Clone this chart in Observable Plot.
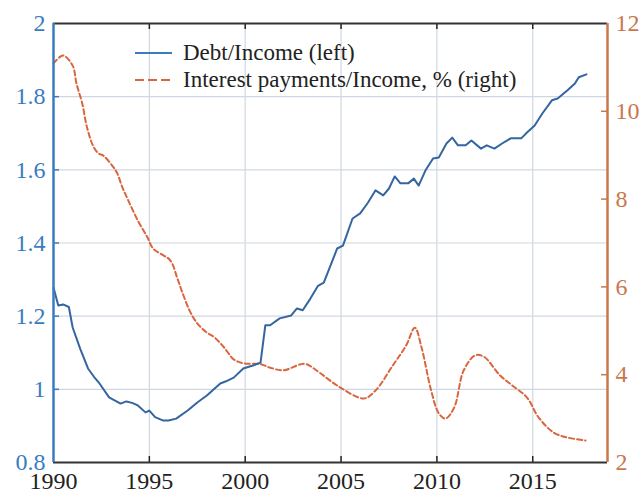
<!DOCTYPE html>
<html><head><meta charset="utf-8">
<script src="https://cdn.jsdelivr.net/npm/d3@7"></script>
<script src="https://cdn.jsdelivr.net/npm/@observablehq/plot@0.6"></script>
<style>
body{margin:0;background:#fff;}
#wrap{position:relative;width:641px;height:493px;font-family:'Liberation Serif','Times New Roman',serif;}
#legend{position:absolute;left:135px;top:39px;font-size:23px;color:#222;}
.row{display:flex;align-items:center;height:27px;white-space:nowrap;}
.row svg{margin-right:11px;}
</style></head><body>
<div id="wrap"><div id="chart"></div>
<div id="legend">
<div class="row"><svg width="37" height="6"><line x1="0" y1="3" x2="37" y2="3" stroke="#3a7cbf" stroke-width="2"/></svg><span>Debt/Income (left)</span></div>
<div class="row"><svg width="37" height="6"><line x1="0" y1="3" x2="37" y2="3" stroke="#d9663f" stroke-width="2" stroke-dasharray="9,4"/></svg><span>Interest payments/Income, % (right)</span></div>
</div></div>
<script>
const debtYears = [1990.0,1990.25,1990.5,1990.8,1991.0,1991.4,1991.8,1992.1,1992.4,1992.9,1993.5,1993.8,1994.1,1994.4,1994.8,1995.0,1995.3,1995.7,1996.0,1996.4,1997.0,1997.5,1998.0,1998.7,1999.0,1999.4,1999.9,2000.4,2000.8,2001.05,2001.3,2001.8,2002.4,2002.7,2003.0,2003.4,2003.8,2004.1,2004.8,2005.1,2005.6,2006.0,2006.4,2006.8,2007.2,2007.5,2007.8,2008.1,2008.5,2008.8,2009.05,2009.4,2009.8,2010.1,2010.5,2010.8,2011.1,2011.5,2011.8,2012.3,2012.6,2013.0,2013.4,2013.85,2014.4,2014.7,2015.1,2015.5,2016.0,2016.3,2016.8,2017.2,2017.4,2017.8];
const debtIncome = [1.278,1.229,1.232,1.225,1.169,1.11,1.057,1.035,1.016,0.978,0.961,0.967,0.963,0.956,0.937,0.942,0.924,0.915,0.915,0.92,0.942,0.964,0.983,1.016,1.022,1.032,1.057,1.065,1.073,1.175,1.175,1.194,1.202,1.221,1.216,1.248,1.283,1.292,1.385,1.393,1.467,1.481,1.51,1.544,1.530,1.549,1.582,1.563,1.563,1.576,1.557,1.598,1.631,1.634,1.672,1.688,1.667,1.667,1.680,1.658,1.667,1.658,1.672,1.686,1.686,1.702,1.721,1.754,1.790,1.795,1.817,1.836,1.853,1.861];
const intYears = [1990.0,1990.5,1991.0,1991.2,1991.5,1991.75,1992.1,1992.35,1992.6,1993.05,1993.3,1993.6,1993.9,1994.4,1994.9,1995.2,1995.65,1996.1,1996.45,1996.7,1997.1,1997.5,1998.0,1998.4,1998.9,1999.4,1999.9,2000.8,2001.3,2002.0,2002.9,2003.2,2003.9,2004.95,2006.2,2006.8,2007.7,2008.4,2008.85,2009.2,2009.7,2010.1,2010.45,2010.9,2011.4,2012.0,2012.45,2013.3,2013.95,2014.7,2015.3,2016.1,2016.8,2017.75];
const interestIncome = [11.09,11.27,11.04,10.63,10.18,9.63,9.18,9.04,8.99,8.77,8.61,8.26,7.97,7.51,7.13,6.87,6.74,6.60,6.21,5.90,5.46,5.17,4.96,4.85,4.62,4.35,4.26,4.24,4.16,4.10,4.24,4.24,4.04,3.71,3.46,3.64,4.21,4.67,5.07,4.62,3.64,3.12,3.00,3.25,4.10,4.44,4.41,3.98,3.75,3.48,3.03,2.68,2.57,2.50];
const xTicks = [1990,1995,2000,2005,2010,2015];
const leftTicks = [0.8,1,1.2,1.4,1.6,1.8,2];
const leftLabels = ["0.8","1","1.2","1.4","1.6","1.8","2"];
const rightTicks = [2,4,6,8,10,12];
const xMax = 2018.9;

const leftMin = 0.8, leftMax = 2, rightMin = 2, rightMax = 12;
const toLeft = v => leftMin + (v - rightMin) * (leftMax - leftMin) / (rightMax - rightMin);
const fromLeft = v => rightMin + (v - leftMin) * (rightMax - rightMin) / (leftMax - leftMin);

const debt = debtYears.map((x, i) => ({x, v: debtIncome[i]}));
const intr = intYears.map((x, i) => ({x, v: interestIncome[i]}));

const W = 641, H = 493, mL = 53, mR = 34, mT = 23, mB = 31;
const tickPx = 6;
const tickX = tickPx * (xMax - 1990) / (W - mL - mR);
const tickY = tickPx * (leftMax - leftMin) / (H - mT - mB);

const blue = "#3a7cbf", orange = "#d9663f", rightAxis = "#c8784c";
const font = "'Liberation Serif','Times New Roman',serif";
const chart = Plot.plot({
  width: W, height: H,
  marginLeft: mL, marginRight: mR, marginTop: mT, marginBottom: mB,
  style: {fontFamily: font, fontSize: "24px", background: "white"},
  x: {domain: [1990, xMax]},
  y: {domain: [leftMin, leftMax]},
  marks: [
    Plot.gridX(xTicks.slice(1), {stroke: "#cfd8e2", strokeOpacity: 1, strokeWidth: 1.2}),
    Plot.gridY(leftTicks.slice(1, -1), {stroke: "#cfd8e2", strokeOpacity: 1, strokeWidth: 1.2}),
    Plot.line(intr, {x: "x", y: d => toLeft(d.v), stroke: orange, strokeWidth: 2, strokeDasharray: "5,3", curve: "catmull-rom"}),
    Plot.line(debt, {x: "x", y: "v", stroke: "#3565a0", strokeWidth: 2}),
    // inward tick marks
    Plot.ruleX(xTicks.slice(1), {x: d => d, y1: leftMin, y2: leftMin + tickY, stroke: "#222", strokeWidth: 1.5}),
    Plot.ruleX(xTicks.slice(1), {x: d => d, y1: leftMax, y2: leftMax - tickY, stroke: "#222", strokeWidth: 1.5}),
    Plot.ruleY(leftTicks.slice(1, -1), {y: d => d, x1: 1990, x2: 1990 + tickX, stroke: blue, strokeWidth: 1.5}),
    Plot.ruleY(rightTicks.slice(1, -1).map(toLeft), {y: d => d, x1: xMax, x2: xMax - tickX, stroke: rightAxis, strokeWidth: 1.5}),
    // tick labels
    Plot.axisX({anchor: "bottom", ticks: xTicks, tickSize: 0, tickPadding: 9, tickFormat: d => String(d), label: null, color: "#222"}),
    Plot.axisY({anchor: "left", ticks: leftTicks, tickSize: 0, tickPadding: 8, tickFormat: d => leftLabels[leftTicks.indexOf(+d.toFixed(1))] ?? "", label: null, color: blue}),
    Plot.axisY({anchor: "right", ticks: rightTicks.map(toLeft), tickSize: 0, tickPadding: 8, tickFormat: d => String(Math.round(fromLeft(d))), label: null, color: rightAxis}),
    // frame
    Plot.ruleY([leftMin, leftMax], {stroke: "#333", strokeWidth: 2}),
    Plot.ruleX([1990], {stroke: blue, strokeWidth: 2.5}),
    Plot.ruleX([xMax], {stroke: rightAxis, strokeWidth: 2.5})
  ]
});
document.getElementById("chart").appendChild(chart);
</script>
</body></html>
